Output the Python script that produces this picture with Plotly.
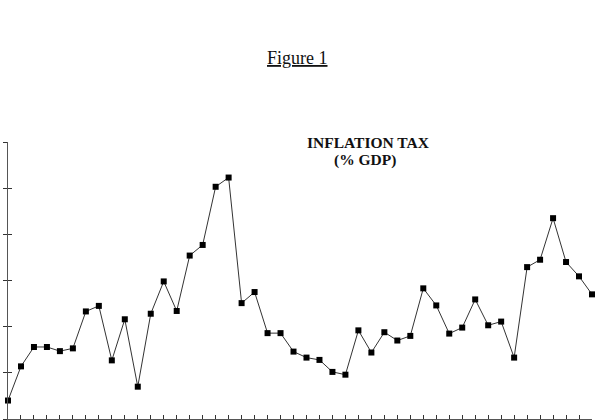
import plotly.graph_objects as go

# period index (years not labelled in the original)
periods = list(range(46))
inflation_tax = [
    0.40, 1.14, 1.56, 1.56, 1.47, 1.53, 2.33, 2.45, 1.27, 2.16, 0.70, 2.28, 2.98, 2.34, 3.54,
    3.77, 5.03, 5.23, 2.51, 2.75, 1.86, 1.86, 1.46, 1.33, 1.28, 1.02, 0.96, 1.92, 1.44, 1.88, 1.70,
    1.80, 2.83, 2.46, 1.85, 1.98, 2.59, 2.03, 2.11, 1.33, 3.29, 3.45, 4.35, 3.40, 3.09, 2.70,
]

fig = go.Figure()
fig.add_trace(go.Scatter(
    x=periods, y=inflation_tax, mode="lines+markers",
    line=dict(color="#333333", width=1),
    marker=dict(symbol="square", size=6, color="#000000"),
    cliponaxis=False, hoverinfo="skip", showlegend=False,
))
# dummy trace on overlay axis (for crossing y ticks)
fig.add_trace(go.Scatter(x=[None], y=[None], yaxis="y2", showlegend=False, hoverinfo="skip"))

axis_color = "#555555"
fig.update_layout(
    width=598, height=420,
    margin=dict(l=8, r=6, t=142, b=1, autoexpand=False),
    paper_bgcolor="white", plot_bgcolor="white",
    xaxis=dict(range=[0, 45], tick0=0, dtick=1, ticks="inside", ticklen=4, tickcolor="#333333",
               showticklabels=False, showgrid=False, zeroline=False,
               showline=True, linecolor=axis_color, linewidth=1),
    yaxis=dict(range=[0, 6], tick0=0, dtick=1, ticks="outside", ticklen=4, tickcolor="#333333",
               showticklabels=False, showgrid=False, zeroline=False,
               showline=True, linecolor=axis_color, linewidth=1),
    yaxis2=dict(range=[0, 6], tick0=0, dtick=1, overlaying="y", side="left", anchor="x",
                ticks="inside", ticklen=4, tickcolor="#333333",
                showticklabels=False, showgrid=False, zeroline=False, showline=False),
    annotations=[
        dict(text="<u>Figure 1</u>", xref="paper", yref="paper", x=0.495, y=1.303,
             xanchor="center", yanchor="middle", showarrow=False,
             font=dict(family="Liberation Serif", size=18, color="#111111")),
        dict(text="<b>INFLATION TAX</b>", xref="paper", yref="paper", x=0.617, y=0.998,
             xanchor="center", yanchor="middle", showarrow=False,
             font=dict(family="Liberation Serif", size=15.5, color="#111111")),
        dict(text="<b>(% GDP)</b>", xref="paper", yref="paper", x=0.611, y=0.934,
             xanchor="center", yanchor="middle", showarrow=False,
             font=dict(family="Liberation Serif", size=15.5, color="#111111")),
    ],
)

fig.write_html("out.html")
